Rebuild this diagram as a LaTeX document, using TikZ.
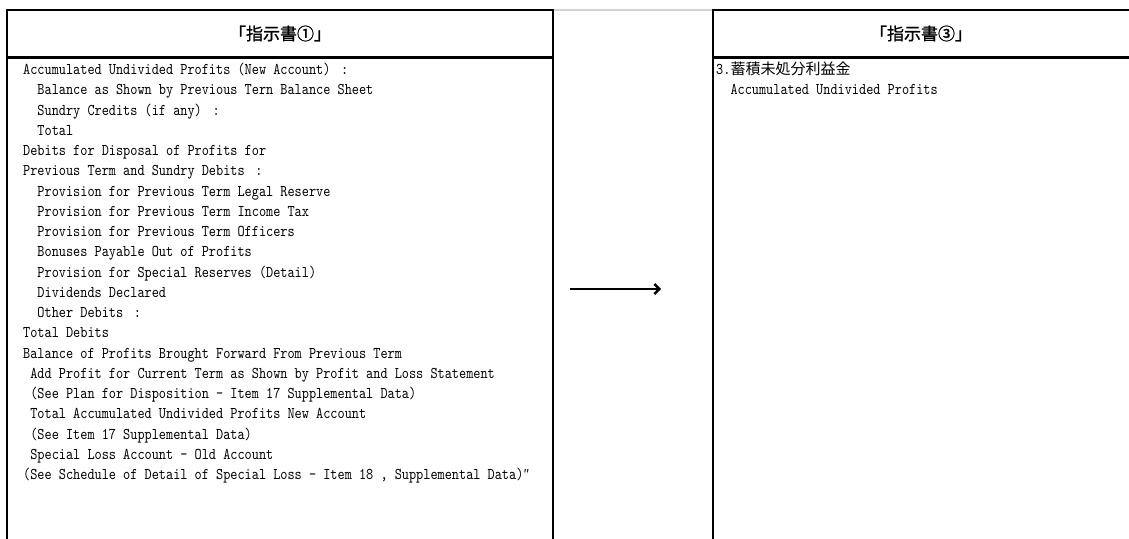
\documentclass[tikz,border=0pt]{standalone}
\usepackage{fontspec}
\newfontfamily\monof[Extension=.otf, UprightFont=*-regular, FakeStretch=0.83]{lmmono10}
\newfontfamily\cjk{Noto Sans CJK JP}
\newfontfamily\cjkb[FakeBold=1.2]{Noto Sans CJK JP}
\usetikzlibrary{arrows.meta}
\newcommand\fcolon{\kern3.5pt:}
\newcommand\dprime{{\cjk\fontsize{13}{13}\selectfont ″}}
\begin{document}
\begin{tikzpicture}[x=1pt,y=1pt,
  frame/.style={line width=2.2pt, black},
  hdrline/.style={line width=2.8pt, black},
  gridline/.style={line width=1.2pt, black!18},
  hdr/.style={inner sep=0pt, font=\cjkb\fontsize{17}{20}\selectfont},
  txt/.style={anchor=base west, inner sep=0pt, font=\monof\fontsize{16.4}{20}\selectfont},
  arr/.style={line width=2.4pt, -{Straight Barb[length=5pt,width=10pt]}}]
\useasboundingbox (0,0) rectangle (1129,-538);
\fill[white] (0,0) rectangle (1129,-538);
% grid line between the boxes
\draw[gridline] (553,-10) -- (713,-10);
% left box
\draw[frame] (7,-545) -- (7,-10) -- (553,-10) -- (553,-545);
\draw[hdrline] (7,-57.5) -- (553,-57.5);
% right box
\draw[frame] (713,-545) -- (713,-10) -- (1135,-10);
\draw[hdrline] (713,-57.5) -- (1135,-57.5);
% headers
\node[hdr] (h1) at (280,-33.5) {「指示書①」};
\node[hdr] (h3) at (921,-33.5) {「指示書③」};
% left text
\foreach \t [count=\i] in {
 {Accumulated Undivided Profits (New Account)~\fcolon},
 {~~Balance as Shown by Previous Tern Balance Sheet},
 {~~Sundry Credits (if any)~\fcolon},
 {~~Total},
 {Debits for Disposal of Profits for},
 {Previous Term and Sundry Debits~\fcolon},
 {~~Provision for Previous Term Legal Reserve},
 {~~Provision for Previous Term Income Tax},
 {~~Provision for Previous Term Officers},
 {~~Bonuses Payable Out of Profits},
 {~~Provision for Special Reserves (Detail)},
 {~~Dividends Declared},
 {~~Other Debits~\fcolon},
 {Total Debits},
 {Balance of Profits Brought Forward From Previous Term},
 {~Add Profit for Current Term as Shown by Profit and Loss Statement},
 {~(See Plan for Disposition - Item 17 Supplemental Data)},
 {~Total Accumulated Undivided Profits New Account},
 {~(See Item 17 Supplemental Data)},
 {~Special Loss Account - Old Account},
 {(See Schedule of Detail of Special Loss - Item 18 , Supplemental Data)\dprime}}
 \node[txt] (L\i) at (23,{-74.5-20.25*(\i-1)}) {\t};
% right text
\node[txt] (R1) at (716,-74.5) {3.{\cjk\fontsize{15}{20}\selectfont 蓄積未処分利益金}};
\node[txt] (R2) at (716,-94.75) {~~Accumulated Undivided Profits};
% arrow
\coordinate (as) at (570,-289);
\coordinate (ae) at (661,-289);
\draw[arr] (as) -- (ae);
\end{tikzpicture}
\end{document}
